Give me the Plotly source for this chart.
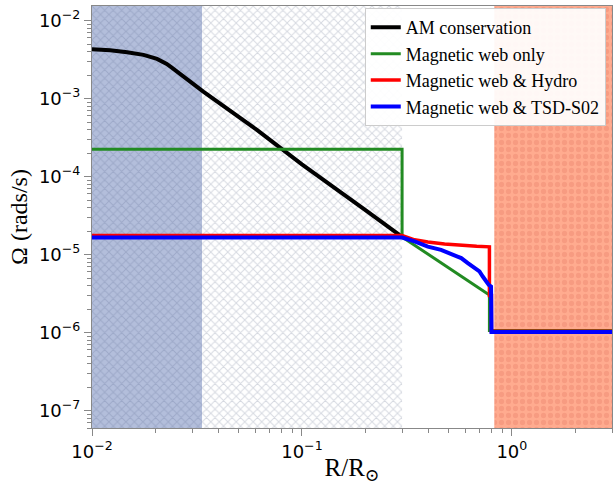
import plotly.graph_objects as go
import math

# ---- data ----
am_x = [0.01, 0.0122, 0.0147, 0.0176, 0.0204, 0.0215, 0.0227, 0.024, 0.0254, 0.0270, 0.0290, 0.0339, 0.0608, 0.1, 0.2, 0.3]
am_y = [4.30e-3, 4.18e-3, 3.94e-3, 3.64e-3, 3.23e-3, 3.03e-3, 2.79e-3, 2.50e-3, 2.22e-3, 1.96e-3, 1.70e-3, 1.23e-3, 4.0e-4, 1.44e-4, 3.75e-5, 1.69e-5]

green_x = [0.01, 0.3, 0.3, 0.782, 0.782, 3.0]
green_y = [2.24e-4, 2.24e-4, 1.69e-5, 3.04e-6, 1.07e-6, 1.07e-6]

red_x = [0.01, 0.3, 0.344, 0.398, 0.478, 0.574, 0.68, 0.782, 0.782, 0.80, 0.80, 3.0]
red_y = [1.76e-5, 1.76e-5, 1.55e-5, 1.45e-5, 1.37e-5, 1.31e-5, 1.28e-5, 1.26e-5, 3.0e-6, 3.0e-6, 1.04e-6, 1.04e-6]

blue_x = [0.01, 0.3, 0.344, 0.398, 0.46, 0.533, 0.574, 0.617, 0.664, 0.701, 0.727, 0.754, 0.776, 0.796, 0.80, 3.0]
blue_y = [1.66e-5, 1.66e-5, 1.48e-5, 1.27e-5, 1.15e-5, 9.95e-6, 9.03e-6, 7.8e-6, 6.73e-6, 6.09e-6, 5.25e-6, 4.53e-6, 4.11e-6, 3.91e-6, 1.02e-6, 1.02e-6]

core_region = [0.01, 0.0335]
hatch_region = [0.0335, 0.3]
envelope_region = [0.825, 3.0]

x_range = [0.01, 3.0]
y_range = [6.0e-8, 1.54e-2]

x_tickvals = [0.01, 0.1, 1]
x_ticktext = ["10<sup>−2</sup>", "10<sup>−1</sup>", "10<sup>0</sup>"]
y_tickvals = [1e-7, 1e-6, 1e-5, 1e-4, 1e-3, 1e-2]
y_ticktext = ["10<sup>−7</sup>", "10<sup>−6</sup>", "10<sup>−5</sup>", "10<sup>−4</sup>", "10<sup>−3</sup>", "10<sup>−2</sup>"]

series_names = ["AM conservation", "Magnetic web only", "Magnetic web & Hydro", "Magnetic web & TSD-S02"]
series_colors = ["black", "#228b22", "#ff0000", "#0000ff"]

SERIF = "Liberation Serif, DejaVu Serif, Times New Roman, serif"


def minor_vals(lo_exp, hi_exp):
    out = []
    for e in range(lo_exp, hi_exp + 1):
        for m in range(2, 10):
            out.append(m * 10 ** e)
    return out


fig = go.Figure()


def band(xr, bg, fg, shape, size, solidity):
    yb, yt = 1e-9, 1.0
    fig.add_trace(go.Scatter(
        x=[xr[0], xr[1], xr[1], xr[0], xr[0]], y=[yb, yb, yt, yt, yb],
        fill="toself", mode="lines", line=dict(width=0, color=bg),
        fillcolor=bg,
        fillpattern=dict(shape=shape, fgcolor=fg, bgcolor=bg, size=size, solidity=solidity),
        showlegend=False, hoverinfo="skip"))


band(core_region, "#b3bedb", "#8894b6", "x", 6, 0.3)
band(hatch_region, "#ffffff", "#aeb4c3", "x", 6, 0.3)
band(envelope_region, "#ffab8f", "#ef8c74", ".", 7, 0.45)

widths = [4, 3, 3.5, 4]
for (xs, ys), name, col, w in zip(
        [(am_x, am_y), (green_x, green_y), (red_x, red_y), (blue_x, blue_y)],
        series_names, series_colors, widths):
    fig.add_trace(go.Scatter(x=xs, y=ys, mode="lines", name=name,
                             line=dict(color=col, width=w)))

axis_common = dict(
    type="log", showgrid=False, zeroline=False, automargin=False,
    showline=True, linecolor="#888888", linewidth=1, mirror=True,
    ticks="outside", ticklen=7, tickcolor="#888888", tickwidth=1,
    tickfont=dict(family="DejaVu Sans", size=18, color="black"),
)

fig.update_xaxes(
    **axis_common,
    range=[math.log10(x_range[0]), math.log10(x_range[1])],
    tickvals=x_tickvals, ticktext=x_ticktext,
    minor=dict(tickvals=minor_vals(-2, 0), ticks="outside", ticklen=4, tickcolor="#888888", showgrid=False),
    title=dict(text="R/R<sub>⊙</sub>", font=dict(family=SERIF, size=25, color="black"), standoff=4),
)
fig.update_yaxes(
    **axis_common,
    range=[math.log10(y_range[0]), math.log10(y_range[1])],
    tickvals=y_tickvals, ticktext=y_ticktext,
    minor=dict(tickvals=minor_vals(-8, -2), ticks="outside", ticklen=4, tickcolor="#888888", showgrid=False),
    title=dict(text="Ω (rads/s)", font=dict(family=SERIF, size=24, color="black"), standoff=4),
)

fig.update_layout(
    width=613, height=485,
    margin=dict(l=92, r=1, t=6, b=57),
    plot_bgcolor="white", paper_bgcolor="white",
    legend=dict(x=0.988, y=0.995, xanchor="right", yanchor="top",
                bgcolor="rgba(255,255,255,0.92)", bordercolor="#cccccc", borderwidth=1,
                font=dict(family=SERIF, size=18, color="black"),
                tracegroupgap=0, itemwidth=30),
    showlegend=True,
)

fig.write_html("out.html", config={"displayModeBar": False},
               post_script="document.body.style.margin='0';document.body.style.padding='0';")
